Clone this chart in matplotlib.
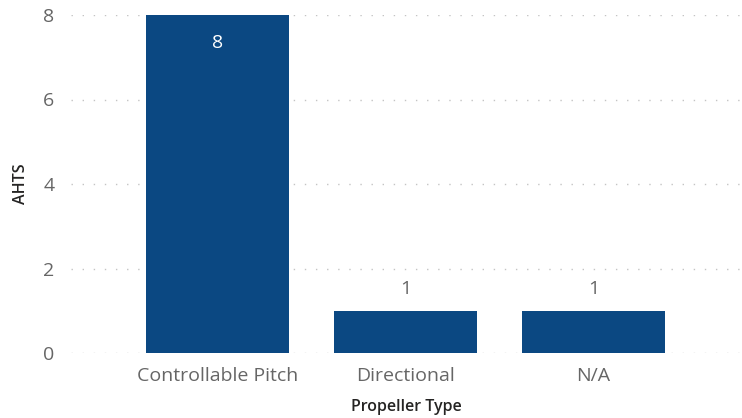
import matplotlib
matplotlib.use("Agg")
import matplotlib.pyplot as plt

categories = ["Controllable Pitch", "Directional", "N/A"]
values = [8, 1, 1]
yticks = [0, 2, 4, 6, 8]

plt.rcParams['font.family'] = ['Open Sans', 'DejaVu Sans']

fig = plt.figure(figsize=(7.42, 4.18), dpi=100)
ax = fig.add_axes([71/742, 65/418, 671/742, 338/418])

x = list(range(len(categories)))
bars = ax.bar(x, values, width=0.76, color="#0B4882", zorder=3)

ax.set_xlim(-0.78, 2.79)
ax.set_ylim(0, 8)
ax.set_yticks(yticks)
ax.set_xticks(x)
ax.set_xticklabels(categories)
ax.tick_params(axis='both', length=0, labelsize=14, labelcolor="#666666")
ax.tick_params(axis='y', pad=12)
ax.tick_params(axis='x', pad=10)
ax.grid(axis='y', linestyle=(0, (1, 7)), color="#C4C4C4", linewidth=1, zorder=0)
for s in ax.spines.values():
    s.set_visible(False)

ax.set_xlabel("Propeller Type", fontsize=11.5, color="#252423", labelpad=10, fontweight='semibold')
ax.set_ylabel("AHTS", fontsize=11.5, color="#252423", labelpad=10, fontweight='semibold')

for xi, v in zip(x, values):
    if v >= 4:
        ax.text(xi, v - 0.45, str(v), ha='center', va='top', color='white', fontsize=14)
    else:
        ax.text(xi, v + 0.3, str(v), ha='center', va='bottom', color='#666666', fontsize=14)

fig.savefig("out.png", dpi=100)
